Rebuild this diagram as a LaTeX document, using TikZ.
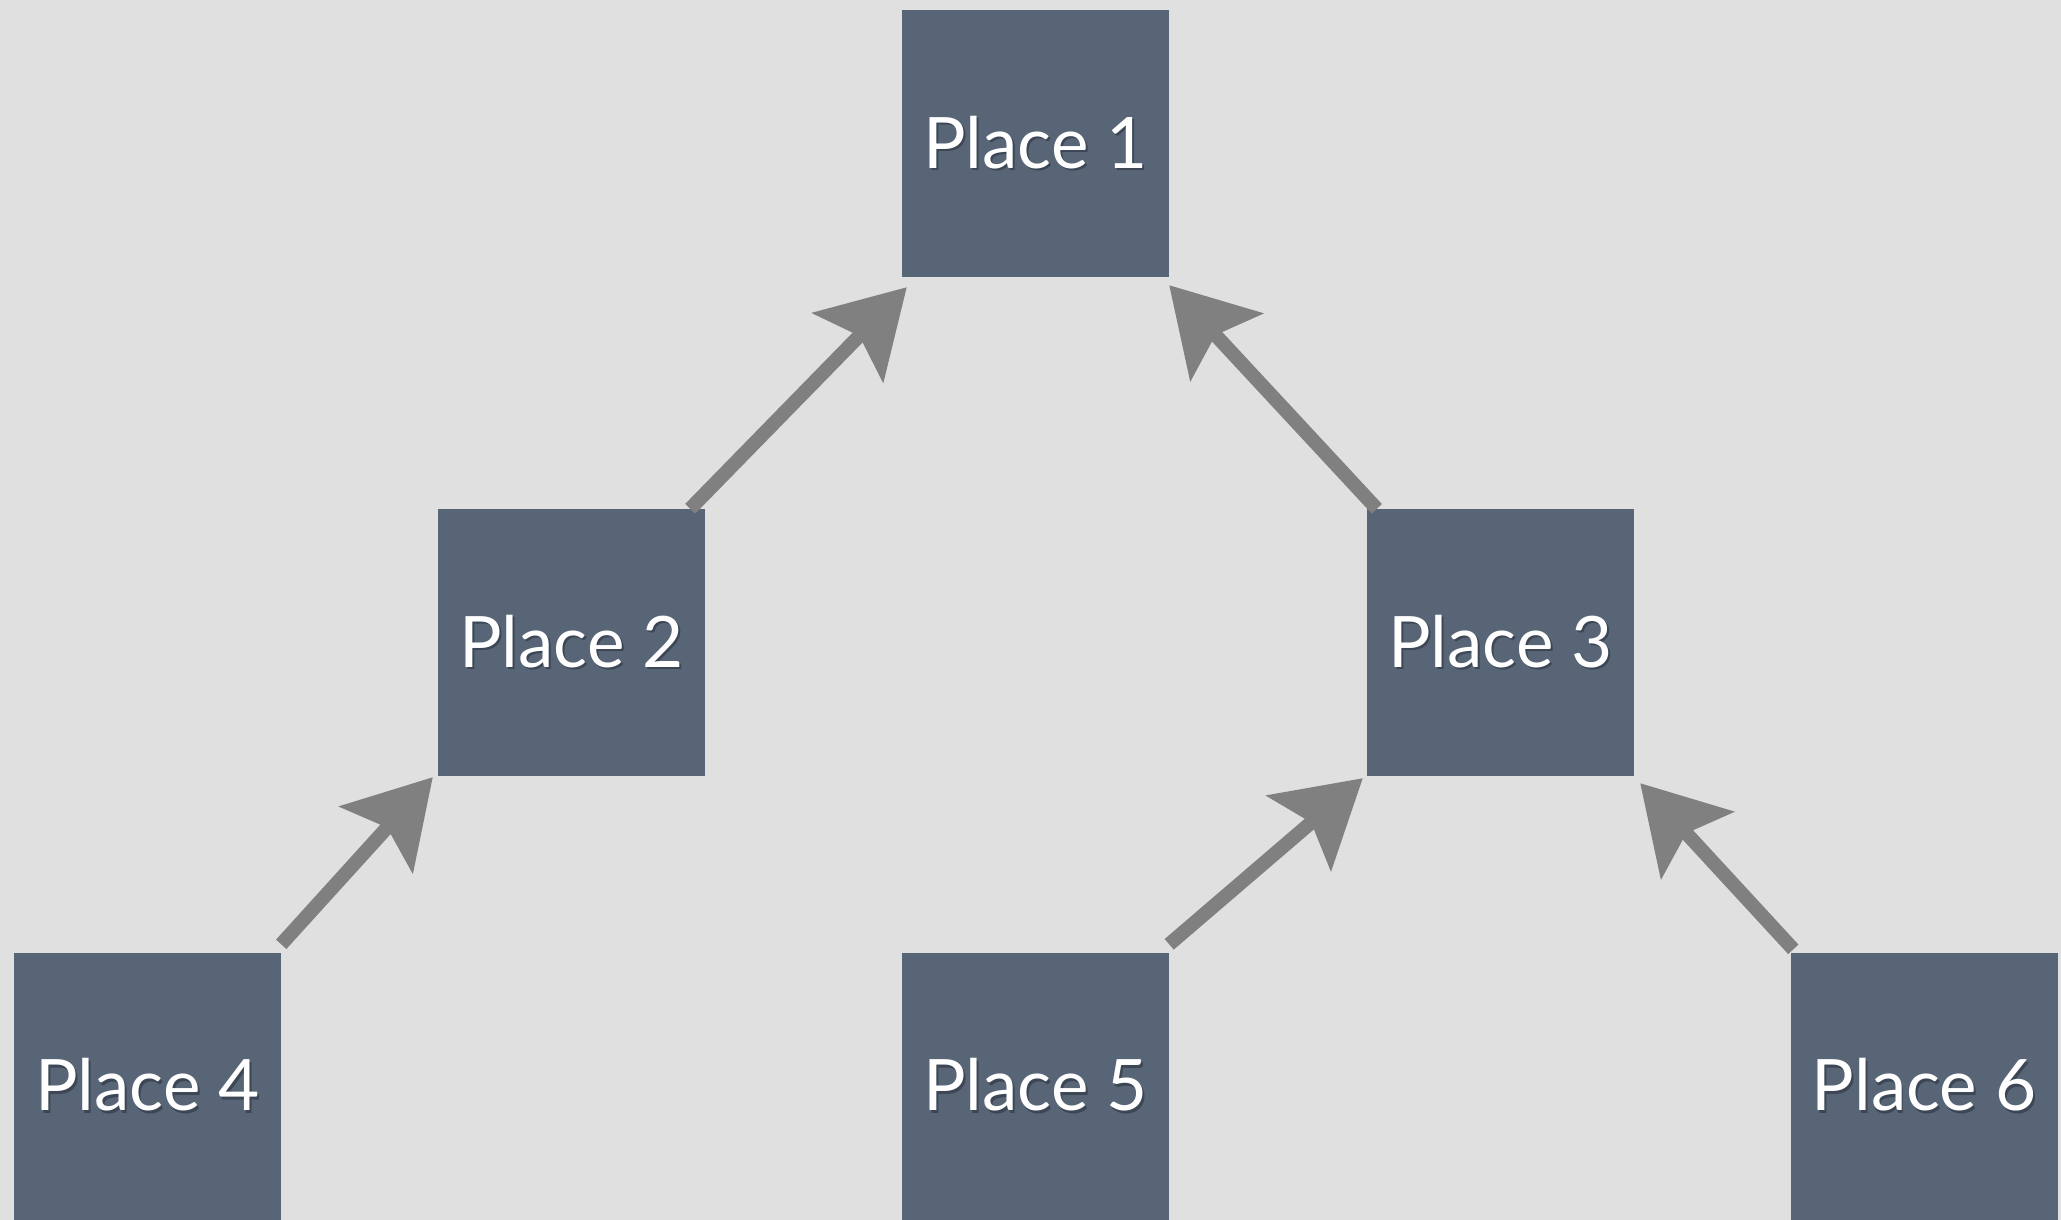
\documentclass[tikz,border=0pt]{standalone}
\usepackage{fontspec}
\setmainfont{Lato}
\usetikzlibrary{arrows.meta,calc}
\definecolor{bgc}{HTML}{E0E0E1}
\definecolor{boxc}{HTML}{576577}
\definecolor{shc}{HTML}{3C4654}
\definecolor{arrc}{HTML}{808080}
\newcommand\shtext[1]{\leavevmode\rlap{\hspace{2pt}\raisebox{-2.5pt}{\textcolor{shc}{#1}}}\textcolor{white}{#1}}
\tikzset{
  placebox/.style={fill=boxc, minimum width=267pt, minimum height=267pt, inner sep=0pt,
    font=\fontsize{71}{80}\selectfont},
  chalk/.style={draw=arrc, line width=14pt,
    -{Stealth[length=84pt, width=98pt, inset=16pt]}}
}
\begin{document}
\begin{tikzpicture}[x=1pt, y=-1pt]
\fill[bgc] (0,0) rectangle (2061,1220);
\useasboundingbox (0,0) rectangle (2061,1220);
\node[placebox] (p1) at (1035.5,143.5) {\shtext{Place 1}};
\node[placebox] (p2) at (571.5,642.5) {\shtext{Place 2}};
\node[placebox] (p3) at (1500.5,642.5) {\shtext{Place 3}};
\node[placebox] (p4) at (147.5,1086) {\shtext{Place 4}};
\node[placebox] (p5) at (1035.5,1086) {\shtext{Place 5}};
\node[placebox] (p6) at (1924,1086) {\shtext{Place 6}};
\draw[chalk] ($(p2.north east)+(-15,0)$) -- ($(p1.south west)+(5,10)$);
\draw[chalk] ($(p3.north west)+(10,0)$) -- ($(p1.south east)+(0,8)$);
\draw[chalk] ($(p4.north east)+(0,-8)$) -- ($(p2.south west)+(-5,1)$);
\draw[chalk] ($(p5.north east)+(0,-8)$) -- ($(p3.south west)+(-4,2)$);
\draw[chalk] ($(p6.north west)+(3,-3)$) -- ($(p3.south east)+(6,7)$);
\end{tikzpicture}
\end{document}
